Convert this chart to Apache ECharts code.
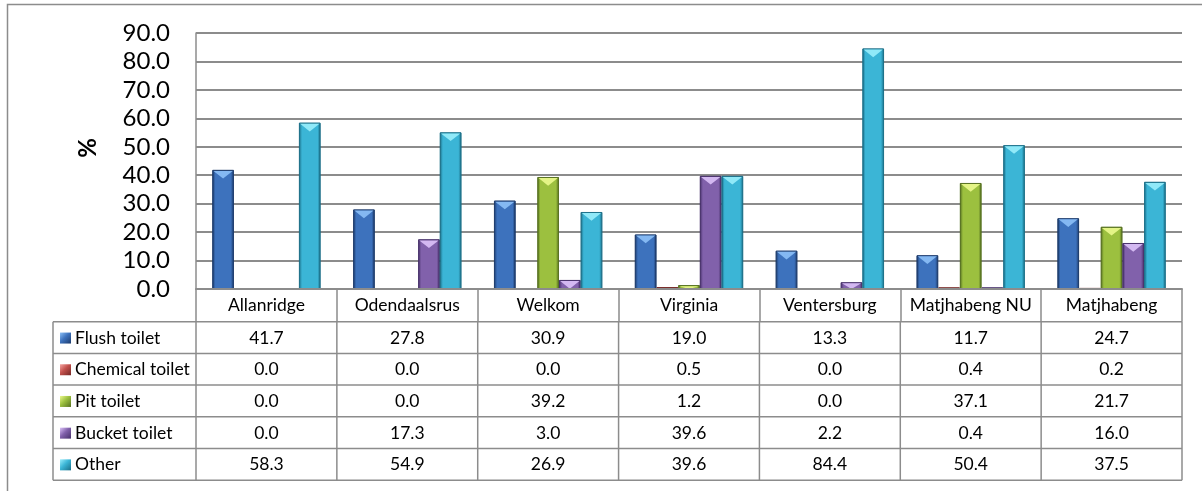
<!DOCTYPE html>
<html>
<head>
<meta charset="utf-8">
<script src="https://cdn.jsdelivr.net/npm/echarts@6/dist/echarts.min.js"></script>
<style>
  html, body { margin: 0; padding: 0; background: #ffffff; }
  #chart { width: 1202px; height: 491px; }
</style>
</head>
<body>
<div id="chart"></div>
<script>
// Sanitation type by area, percentage of households
const categories = ['Allanridge', 'Odendaalsrus', 'Welkom', 'Virginia', 'Ventersburg', 'Matjhabeng NU', 'Matjhabeng'];
const seriesNames = ['Flush toilet', 'Chemical toilet', 'Pit toilet', 'Bucket toilet', 'Other'];
const flushToilet    = [41.7, 27.8, 30.9, 19.0, 13.3, 11.7, 24.7];
const chemicalToilet = [0.0, 0.0, 0.0, 0.5, 0.0, 0.4, 0.2];
const pitToilet      = [0.0, 0.0, 39.2, 1.2, 0.0, 37.1, 21.7];
const bucketToilet   = [0.0, 17.3, 3.0, 39.6, 2.2, 0.4, 16.0];
const other          = [58.3, 54.9, 26.9, 39.6, 84.4, 50.4, 37.5];
const yTickLabels    = ['0.0', '10.0', '20.0', '30.0', '40.0', '50.0', '60.0', '70.0', '80.0', '90.0'];
const yAxisTitle     = '%';

const seriesValues = [flushToilet, chemicalToilet, pitToilet, bucketToilet, other];

// bevelled bar colours: edge shade, body, highlight
const palette = [
  { dark: '#1c3a6b', body: '#3d72bd', light: '#8cc0f7' },
  { dark: '#732624', body: '#c2504c', light: '#f5a5a2' },
  { dark: '#55701f', body: '#9cc03f', light: '#ecf98e' },
  { dark: '#46306a', body: '#8161ab', light: '#dcc2f8' },
  { dark: '#1a6f88', body: '#3bb5d6', light: '#9aeefc' }
];

const FONT = 'Lato, "Open Sans", "Liberation Sans", sans-serif';
const GRID = { left: 196, top: 33, right: 20, height: 256 };
const GAP_RATIO = 1.5;           // gap between groups, in bar widths
const LINE = '#8c8c8c';
const ROW_H = 31.7;
const TABLE_FONT = 17.5;

function bevel(si) {
  const p = palette[si];
  return new echarts.graphic.LinearGradient(0, 0, 1, 0, [
    { offset: 0, color: p.dark },
    { offset: 0.14, color: p.body },
    { offset: 0.5, color: p.body },
    { offset: 0.86, color: p.body },
    { offset: 1, color: p.dark }
  ]);
}

function barRenderer(si) {
  const n = seriesNames.length;
  return function (params, api) {
    const ci = api.value(0);
    const v = api.value(1);
    const base = api.coord([ci, 0]);
    const top = api.coord([ci, v]);
    const band = api.size([1, 0])[0];
    const w = band / (n + GAP_RATIO);
    const x = base[0] - (n * w) / 2 + si * w;
    const h = base[1] - top[1];
    if (!(h > 0)) return null;
    const tri = Math.min(w * 0.38, h);
    const p = palette[si];
    return {
      type: 'group',
      children: [
        {
          type: 'rect',
          shape: { x: x + 0.5, y: top[1], width: w - 1, height: h },
          style: { fill: bevel(si), stroke: p.dark, lineWidth: 0.8 }
        },
        {
          type: 'polygon',
          shape: { points: [[x + 1.2, top[1] + 0.6], [x + w - 1.2, top[1] + 0.6], [x + w / 2, top[1] + tri]] },
          style: { fill: p.light, opacity: 0.9 }
        }
      ]
    };
  };
}

const chart = echarts.init(document.getElementById('chart'), null, { renderer: 'canvas' });

chart.setOption({
  animation: false,
  backgroundColor: '#ffffff',
  grid: GRID,
  xAxis: {
    type: 'category',
    data: categories,
    z: 4,
    axisLine: { show: true, lineStyle: { color: LINE, width: 2 } },
    axisTick: { show: true, interval: 0, length: 32.7, lineStyle: { color: LINE, width: 1.5 } },
    axisLabel: { show: true, interval: 0, margin: 7, fontFamily: FONT, fontSize: TABLE_FONT, color: '#000' },
    splitLine: { show: false }
  },
  yAxis: {
    type: 'value',
    min: 0,
    max: 90,
    interval: 10,
    z: 0,
    axisLine: { show: true, lineStyle: { color: LINE, width: 1.5 } },
    axisTick: { show: false },
    axisLabel: {
      margin: 26,
      fontFamily: FONT,
      fontSize: 24,
      color: '#000',
      formatter: (v) => yTickLabels[Math.round(v / 10)]
    },
    splitLine: { show: true, lineStyle: { color: LINE, width: 2 } }
  },
  series: seriesValues.map((vals, si) => ({
    type: 'custom',
    name: seriesNames[si],
    renderItem: barRenderer(si),
    encode: { x: 0, y: 1 },
    data: vals.map((v, ci) => [ci, v]),
    clip: false,
    z: 2
  }))
});

// data table under the plot, laid out on the category axis
function buildTable() {
  const x0 = chart.convertToPixel({ gridIndex: 0 }, [0, 0]);
  const x1 = chart.convertToPixel({ gridIndex: 0 }, [1, 0]);
  const band = x1[0] - x0[0];
  const left = x0[0] - band / 2;
  const right = left + band * categories.length;
  const labelLeft = 53;
  const tableTop = x0[1] + 32.7;
  const rows = seriesNames.length;
  const els = [];

  // frame of the chart area
  els.push({ type: 'polyline', shape: { points: [[7.5, 491], [7.5, 4.5], [1202, 4.5]] },
    style: { stroke: LINE, lineWidth: 1.5, fill: null }, silent: true });

  for (let r = 0; r <= rows; r++) {
    const y = tableTop + r * ROW_H;
    els.push({ type: 'line', shape: { x1: labelLeft, y1: y, x2: right, y2: y },
      style: { stroke: LINE, lineWidth: 1.5 }, silent: true });
  }
  const bottom = tableTop + rows * ROW_H;
  els.push({ type: 'line', shape: { x1: labelLeft, y1: tableTop, x2: labelLeft, y2: bottom },
    style: { stroke: LINE, lineWidth: 1.5 }, silent: true });
  for (let c = 0; c <= categories.length; c++) {
    const x = left + c * band;
    els.push({ type: 'line', shape: { x1: x, y1: tableTop, x2: x, y2: bottom },
      style: { stroke: LINE, lineWidth: 1.5 }, silent: true });
  }

  for (let r = 0; r < rows; r++) {
    const cy = tableTop + r * ROW_H + ROW_H / 2;
    const p = palette[r];
    // legend key
    els.push({ type: 'rect', shape: { x: 60, y: cy - 5, width: 11, height: 11 },
      style: { fill: new echarts.graphic.LinearGradient(0, 0, 1, 1, [
        { offset: 0, color: p.light }, { offset: 0.45, color: p.body }, { offset: 1, color: p.dark }]) },
      silent: true });
    els.push({ type: 'text', x: 75, y: cy + 0.5,
      style: { text: seriesNames[r], fontFamily: FONT, fontSize: TABLE_FONT, fill: '#000',
        align: 'left', verticalAlign: 'middle' }, silent: true });
    for (let c = 0; c < categories.length; c++) {
      els.push({ type: 'text', x: left + c * band + band / 2, y: cy + 0.5,
        style: { text: seriesValues[r][c].toFixed(1), fontFamily: FONT, fontSize: TABLE_FONT, fill: '#000',
          align: 'center', verticalAlign: 'middle' }, silent: true });
    }
  }

  // axis title
  els.push({ type: 'text', x: 88, y: 148, rotation: Math.PI / 2,
    style: { text: yAxisTitle, fontFamily: FONT, fontSize: 24, fontWeight: 'bold', fill: '#000',
      align: 'center', verticalAlign: 'middle' }, silent: true });

  chart.setOption({ graphic: { elements: els } });
}

buildTable();
</script>
</body>
</html>
